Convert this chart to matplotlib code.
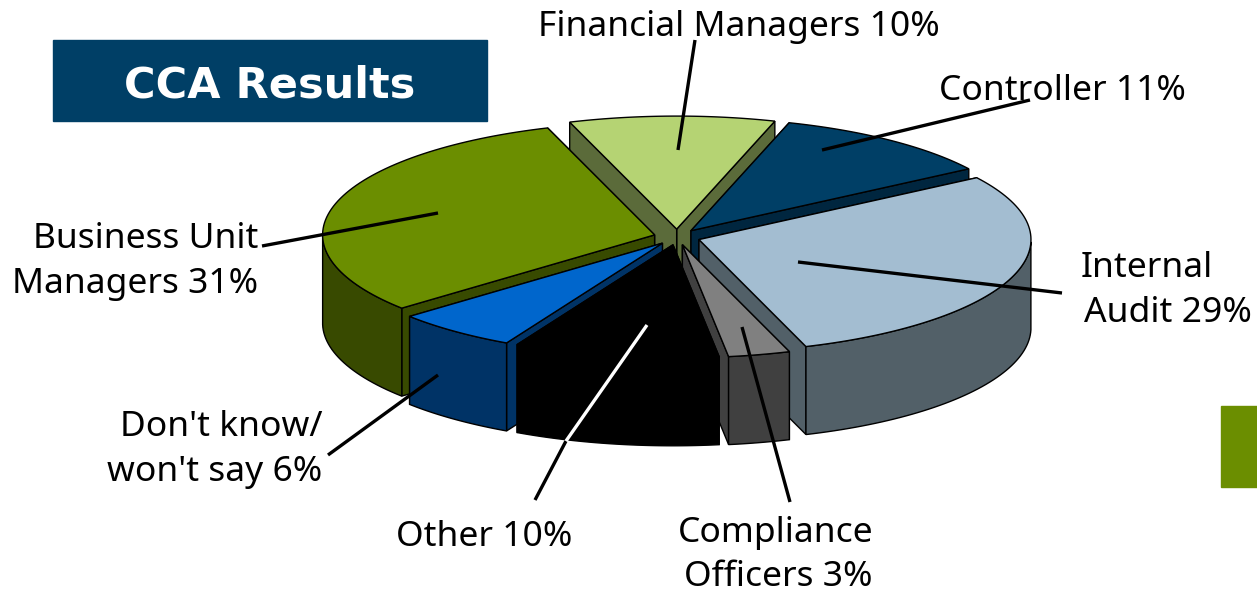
import numpy as np
from matplotlib import pyplot as plt
from matplotlib.patches import Polygon, Rectangle

# slices, clockwise from the top
names = ['Financial Managers', 'Controller', 'Internal Audit', 'Compliance Officers',
         'Other', "Don't know", 'Business Unit Managers']
shares = [10, 11, 29, 3, 10, 6, 31]
top_colors = ['#B5D373', '#003F66', '#A3BDD1', '#808080', '#000000', '#0066CC', '#6B8E00']
side_colors = ['#5B6B3A', '#00263F', '#526068', '#404040', '#000000', '#003366', '#384A00']

# back to front
draw_order = [0, 1, 6, 2, 5, 3, 4]

CX, CY = 677, 237
RX, RY = 332, 113
DEPTH = 88
EXPLODE = 0.07
START = -18.8

labels = [
    ('Financial Managers 10%', 739, 27, 'center'),
    ('Controller 11%', 1062, 91, 'center'),
    ('Internal', 1147, 268, 'center'),
    ('Audit 29%', 1168, 313, 'center'),
    ('Compliance', 776, 533, 'center'),
    ('Officers 3%', 778, 577, 'center'),
    ('Other 10%', 484, 537, 'center'),
    ("Don't know/", 322, 427, 'right'),
    ("won't say 6%", 322, 472, 'right'),
    ('Business Unit', 258, 239, 'right'),
    ('Managers 31%', 258, 284, 'right'),
]
leaders = [
    ((695, 40), (678, 150), 'black'),
    ((1030, 100), (822, 150), 'black'),
    ((1062, 293), (798, 262), 'black'),
    ((790, 502), (742, 327), 'black'),
    ((535, 500), (566, 441), 'black'),
    ((566, 441), (647, 325), 'white'),
    ((328, 455), (438, 375), 'black'),
    ((262, 246), (438, 213), 'black'),
]

fig = plt.figure(figsize=(12.57, 5.93), dpi=100)
ax = fig.add_axes([0, 0, 1, 1])
ax.set_xlim(0, 1257)
ax.set_ylim(593, 0)
ax.axis('off')

ax.add_patch(Rectangle((53, 40), 434, 81, color='#003F66', zorder=1))
ax.text(270, 86, 'CCA Results', color='white', fontsize=31, fontweight='bold',
        family='DejaVu Sans', ha='center', va='center', zorder=2)
ax.add_patch(Rectangle((1221, 406), 36, 81, color='#6B8E00', zorder=1))

spans = np.array(shares) / sum(shares) * 360
starts = START + np.concatenate(([0], np.cumsum(spans)[:-1]))

z = 3
for i in draw_order:
    a0 = np.radians(starts[i])
    a1 = np.radians(starts[i] + spans[i])
    mid = (a0 + a1) / 2
    ax0 = CX + EXPLODE * RX * np.sin(mid)
    ay0 = CY - EXPLODE * RY * np.cos(mid)
    t = np.linspace(a0, a1, 80)
    rim_x = ax0 + RX * np.sin(t)
    rim_y = ay0 - RY * np.cos(t)
    edge = 'black'

    # cut faces, further one first
    ends = (0, -1) if rim_y[0] < rim_y[-1] else (-1, 0)
    for k in ends:
        face = [(ax0, ay0), (rim_x[k], rim_y[k]), (rim_x[k], rim_y[k] + DEPTH), (ax0, ay0 + DEPTH)]
        ax.add_patch(Polygon(face, closed=True, fc=side_colors[i], ec=edge, lw=1, zorder=z))
        z += 1

    # outer wall, only where the rim faces the viewer
    front = np.cos(t) < 0
    if front.any():
        wx = rim_x[front]
        wy = rim_y[front]
        wall = np.column_stack((np.r_[wx, wx[::-1]], np.r_[wy, wy[::-1] + DEPTH]))
        ax.add_patch(Polygon(wall, closed=True, fc=side_colors[i], ec=edge, lw=1, zorder=z))
        z += 1

    top = np.column_stack((np.r_[ax0, rim_x], np.r_[ay0, rim_y]))
    ax.add_patch(Polygon(top, closed=True, fc=top_colors[i], ec=edge, lw=1, zorder=z))
    z += 1

for p0, p1, col in leaders:
    ax.plot([p0[0], p1[0]], [p0[1], p1[1]], color=col, lw=2.4, zorder=z, solid_capstyle='butt')

for txt, x, y, ha in labels:
    ax.text(x, y, txt, fontsize=25.5, family='Noto Sans', ha=ha, va='center', color='black', zorder=z + 1)

fig.savefig('out.png', dpi=100)
